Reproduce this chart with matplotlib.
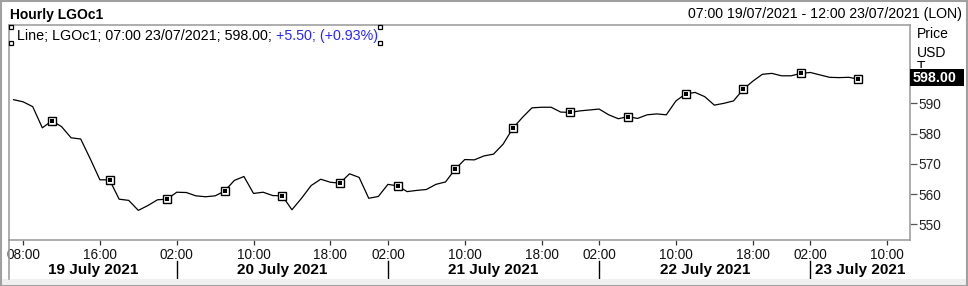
import matplotlib
matplotlib.use("Agg")
import matplotlib.pyplot as plt
import matplotlib.transforms as mtransforms
from matplotlib.patches import Rectangle

plt.rcParams['font.family'] = ['Liberation Sans', 'DejaVu Sans']

# hourly closes, trading-hour index 0 = 07:00 19/07/2021 (22 bars per day, 01:00-22:00)
prices = [
    591.2, 590.5, 588.9, 581.9, 584.2, 582.3, 578.6, 578.2, 571.6, 564.7,
    564.7, 558.3, 557.9, 554.6, 556.2, 558.1, 558.3, 560.6, 560.5, 559.4,
    559.1, 559.4, 561.0, 564.5, 565.8, 560.2, 560.6, 559.5, 559.4, 554.8,
    558.6, 562.8, 564.9, 563.9, 563.6, 566.7, 565.5, 558.6, 559.2, 563.2,
    562.7, 560.8, 561.2, 561.5, 563.2, 564.0, 568.2, 571.4, 571.3, 572.6,
    573.2, 576.5, 581.7, 585.3, 588.5, 588.7, 588.7, 587.1, 587.0, 587.5,
    587.8, 588.1, 586.2, 584.9, 585.6, 585.0, 586.2, 586.5, 586.2, 590.8,
    593.1, 593.6, 592.2, 589.4, 590.0, 590.8, 594.6, 597.3, 599.6, 599.9,
    599.1, 599.1, 599.9, 600.2, 599.4, 598.6, 598.5, 598.6, 598.0,
]
hour_ticks = [1, 9, 17, 25, 33, 39, 47, 55, 61, 69, 77, 83, 91]
hour_labels = ["08:00", "16:00", "02:00", "10:00", "18:00", "02:00", "10:00",
               "18:00", "02:00", "10:00", "18:00", "02:00", "10:00"]
day_bounds = [17, 39, 61, 83]
day_labels = ["19 July 2021", "20 July 2021", "21 July 2021", "22 July 2021", "23 July 2021"]
price_ticks = [550, 560, 570, 580, 590]
change = 5.50
change_pct = 0.93

W, H = 968, 286
GRAY = "#a0a0a0"


def main():
    fig = plt.figure(figsize=(W / 100, H / 100), dpi=100)
    ax = fig.add_axes([9 / W, 1 - 240 / H, 900.7 / W, 215 / H])

    x = list(range(len(prices)))
    ax.plot(x, prices, color="black", lw=0.9, zorder=3)
    ax.plot(x, prices, ls="none", marker="s", ms=6.2, mfc="white", mec="black",
            mew=1.0, markevery=slice(4, None, 6), zorder=4)
    ax.plot(x, prices, ls="none", marker="s", ms=2.2, mfc="black", mec="black",
            mew=0, markevery=slice(4, None, 6), zorder=5)

    x0, x1 = -0.47, 93.35
    ax.set_xlim(x0, x1)
    ax.set_ylim(544.8, 615.9)

    for s in ax.spines.values():
        s.set_color(GRAY)
        s.set_linewidth(1.2)

    ax.set_xticks(hour_ticks)
    ax.set_xticklabels(hour_labels, fontsize=9.8, color="#111111")
    ax.tick_params(axis="x", direction="out", length=3.5, width=0.9, color="#333333", pad=2.5)

    ax.yaxis.tick_right()
    ax.set_yticks(price_ticks)
    ax.set_yticklabels([str(v) for v in price_ticks], fontsize=9.8, color="#222222")
    ax.tick_params(axis="y", direction="out", length=5, width=0.9, color="#555555", pad=1)

    # day row
    bt = mtransforms.blended_transform_factory(ax.transData, ax.transAxes)
    for b in day_bounds:
        ax.plot([b, b], [-0.098, -0.185], transform=bt, color="black", lw=1, clip_on=False)
    edges = [x0] + day_bounds + [x1]
    for i, lab in enumerate(day_labels):
        ax.text((edges[i] + edges[i + 1]) / 2, -0.14, lab, transform=bt, ha="center",
                va="center", fontsize=11, fontweight="bold")

    # legend line
    t1 = ax.text(0.009, 0.95, "Line; LGOc1; 07:00 23/07/2021; %.2f; " % prices[-1],
                 transform=ax.transAxes, fontsize=10.3, va="center", ha="left")
    ax.annotate("%+.2f; (%+.2f%%)" % (change, change_pct), xy=(1, 0), xycoords=t1,
                va="bottom", ha="left", fontsize=10.3, color="#2828ff")
    for hx in (0.002, 0.412):
        for hy in (0.99, 0.915):
            ax.plot([hx], [hy], transform=ax.transAxes, marker="s", ms=3.5, mfc="white",
                    mec="black", mew=0.9, clip_on=False, zorder=6)

    # axis caption on the right
    yt = mtransforms.blended_transform_factory(ax.transAxes, ax.transData)
    ax.text(1.008, 0.96, "Price", transform=ax.transAxes, fontsize=10, va="center", zorder=1)
    ax.text(1.008, 0.87, "USD", transform=ax.transAxes, fontsize=10, va="center", zorder=1)
    # unit label sits partly behind the last-price box, as in the terminal
    tt = ax.text(1.008, 0.805, "T", transform=ax.transAxes, fontsize=10, va="center", zorder=1)
    tt.set_clip_box(mtransforms.Bbox.from_extents(905, H - 68, W, H - 50))
    tt.set_clip_on(True)
    ax.add_patch(Rectangle((1.0005, prices[-1] - 2.4), 0.06, 5.6, transform=yt,
                           facecolor="black", edgecolor="none", clip_on=False, zorder=7))
    ax.text(1.003, prices[-1] + 0.4, "%.2f" % prices[-1], transform=yt, fontsize=10.3,
            fontweight="bold", color="white", va="center", ha="left", zorder=8)

    # header
    fig.text(10.5 / W, 1 - 15 / H, "Hourly LGOc1", fontsize=10, fontweight="bold",
             va="center", ha="left")
    fig.text(962 / W, 1 - 14 / H, "07:00 19/07/2021 - 12:00 23/07/2021 (LON)",
             fontsize=10.2, va="center", ha="right")

    # frame and bottom strip
    fig.add_artist(Rectangle((0, 0), 1, 7 / H, transform=fig.transFigure,
                             facecolor="#f0f0f0", edgecolor="none"))
    fig.add_artist(plt.Line2D([9 / W, 9 / W], [7 / H, 1 - 240 / H], transform=fig.transFigure,
                              color=GRAY, lw=1.2))
    fig.add_artist(Rectangle((0.5 / W, 0.5 / H), 1 - 1.5 / W, 1 - 1.5 / H, transform=fig.transFigure,
                             facecolor="none", edgecolor=GRAY, lw=1.5))

    fig.savefig("out.png", dpi=100)


if __name__ == "__main__":
    main()
